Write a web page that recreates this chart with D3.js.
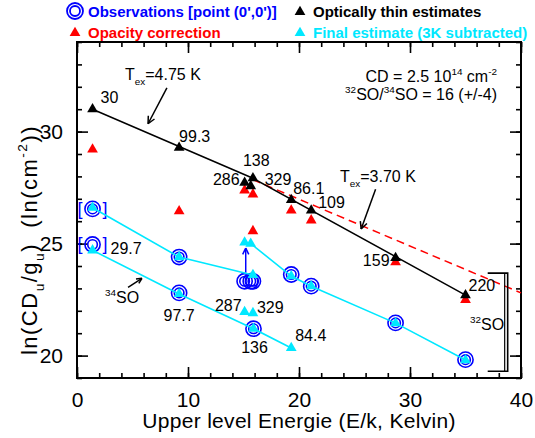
<!DOCTYPE html>
<html>
<head>
<meta charset="utf-8">
<script src="https://cdn.jsdelivr.net/npm/d3@7"></script>
<style>
body { margin: 0; background: #fff; }
svg { display: block; font-family: "Liberation Sans", Arial, sans-serif; }
</style>
</head>
<body>
<svg id="chart" width="535" height="438"></svg>
<script>
/* 32SO lines: frequency label (GHz) and upper level energy (K) */
var lines32 = ["30", "99.3", "286", "329", "138", "86.1", "109", "159", "220"];
var eu32    = [1.4, 9.2, 15.1, 15.65, 15.85, 19.3, 21.1, 28.7, 35.0];
var thin32  = [31.0, 29.28, 27.72, 27.57, 27.92, 26.95, 26.48, 24.36, 22.7];   // black
var opacEu32 = [1.4, 9.2, 15.1, 15.85, 15.85, 19.3, 21.1, 28.7, 35.0];
var opac32  = [29.2, 26.45, 27.38, 25.56, 27.2, 26.48, 26.04, 24.17, 22.49];  // red
var obs32   = [26.55, 24.4, 23.32, 23.32, 23.32, 23.62, 23.1, 21.46, 19.82];  // blue circles
var final32 = [26.6, 24.4, 25.05, 25.0, 23.6, 23.55, 23.1, 21.45, 19.8];     // cyan
var finalPathA = [0, 1, 4];          // indices joined by the first cyan line
var finalPathB = [3, 5, 6, 7, 8];    // second cyan line

/* 34SO lines */
var lines34 = ["29.7", "97.7", "287", "329", "136", "84.4"];
var eu34    = [1.4, 9.2, 15.1, 15.85, 15.9, 19.3];
var final34 = [24.7, 22.75, 21.95, 21.9, 21.2, 20.34];
var obsIdx34 = [0, 1, 4];
var obs34   = [24.96, 22.8, 21.2];
var final34Path = [0, 1, 4, 5];

/* fits */
var fitThin = [[1.4, 31.0], [15.85, 27.92], [35.0, 22.7]];
var fitDash = [[15.85, 27.85], [40, 22.8]];

/* label offsets (px) */
var lab32 = [[8, -6, "start"], [0, -6, "start"], [-5, 2, "end"], [14, -1, "start"], [-10, -12, "start"],
             [2, -6, "start"], [7, -2, "start"], [-6, 8, "end"], [3, -4, "start"]];
var lab34 = [[18, 4, "start"], [0, 27, "middle"], [-3, -1, "end"], [4, 0, "start"], [1, 24, "middle"], [4, -7, "start"]];

var legendText = ["Observations [point (0',0')]", "Optically thin estimates", "Opacity correction", "Final estimate (3K subtracted)"];
var legendColor = ["#0000ff", "#000000", "#ff0000", "#00e8ff"];

var BLUE = "#0000ff", RED = "#ff0000", CYAN = "#00e8ff";

var svg = d3.select("#chart");
var x = d3.scaleLinear().domain([0, 40]).range([77, 521]);
var y = d3.scaleLinear().domain([19, 34]).range([378, 42]);
var L = 77, R = 521, T = 42, B = 378;

/* ---- axes, ticks inward on all four sides ---- */
function ticks(axis, tr, vals, size, labels) {
  var g = svg.append("g").attr("transform", tr)
    .call(axis.tickValues(vals).tickSize(size).tickPadding(14)
      .tickFormat(labels ? d3.format("d") : ""));
  g.select(".domain").remove();
  g.selectAll("line").attr("stroke", "#000").attr("stroke-width", 1.6);
  g.selectAll("text").attr("fill", "#000").style("font-size", "21px");
  return g;
}
var xMaj = d3.range(0, 41, 10), xMin = d3.range(0, 41, 2);
var yMaj = [20, 25, 30], yMin = d3.range(19, 35, 1);
var gx = ticks(d3.axisBottom(x), "translate(0," + B + ")", xMaj, -11, true);
gx.selectAll("text").attr("dy", null).attr("y", 29);
ticks(d3.axisBottom(x), "translate(0," + B + ")", xMin, -5, false);
ticks(d3.axisTop(x), "translate(0," + T + ")", xMaj, -11, false);
ticks(d3.axisTop(x), "translate(0," + T + ")", xMin, -5, false);
ticks(d3.axisLeft(y), "translate(" + L + ",0)", yMaj, -11, true);
ticks(d3.axisLeft(y), "translate(" + L + ",0)", yMin, -5, false);
ticks(d3.axisRight(y), "translate(" + R + ",0)", yMaj, -11, false);
ticks(d3.axisRight(y), "translate(" + R + ",0)", yMin, -5, false);

svg.append("rect").attr("x", L).attr("y", T).attr("width", R - L).attr("height", B - T)
  .attr("fill", "none").attr("stroke", "#000").attr("stroke-width", 2);

/* rich text helper: parts = [[text, "n"|"sub"|"sup"], ...] */
function rich(g, parts, size) {
  var t = g.style("font-size", size + "px").style("white-space", "pre");
  var shift = 0;
  parts.forEach(function(p) {
    var target = p[1] === "sub" ? 0.3 * size : p[1] === "sup" ? -0.45 * size : 0;
    t.append("tspan").attr("dy", target - shift)
      .style("font-size", (p[1] === "n" ? size : size * 0.62) + "px").text(p[0]);
    shift = target;
  });
  return t;
}

svg.append("text").attr("x", 299).attr("y", 428).attr("text-anchor", "middle")
  .style("font-size", "21px").style("letter-spacing", "0.3px")
  .text("Upper level Energie (E/k, Kelvin)");
rich(svg.append("text").attr("text-anchor", "middle")
  .attr("transform", "translate(37,240) rotate(-90)").style("letter-spacing", "1.5px"),
  [["ln(CD", "n"], ["u", "sub"], ["/g", "n"], ["u", "sub"], [")  (ln(cm", "n"], ["-2", "sup"], ["))", "n"]], 22);

/* ---- fit lines ---- */
var line = d3.line().x(function(d) { return x(d[0]); }).y(function(d) { return y(d[1]); });
svg.append("path").attr("d", line(fitDash)).attr("fill", "none")
  .attr("stroke", RED).attr("stroke-width", 1.5).attr("stroke-dasharray", "8,5");
svg.append("path").attr("d", line(fitThin)).attr("fill", "none")
  .attr("stroke", "#000").attr("stroke-width", 1.5);

var tri = d3.symbol().type(d3.symbolTriangle).size(50);

svg.append("g").selectAll("path").data(opac32).join("path")
  .attr("d", tri).attr("fill", RED)
  .attr("transform", function(d, i) { return "translate(" + x(opacEu32[i]) + "," + y(d) + ")"; });
svg.append("g").selectAll("path").data(thin32).join("path")
  .attr("d", tri).attr("fill", "#000")
  .attr("transform", function(d, i) { return "translate(" + x(eu32[i]) + "," + y(d) + ")"; });

/* observations: double circles */
function ring(g, cx, cy) {
  [7.6, 4.8].forEach(function(r) {
    g.append("circle").attr("cx", cx).attr("cy", cy).attr("r", r)
      .attr("fill", "none").attr("stroke", BLUE).attr("stroke-width", 1.6);
  });
}
var gObs = svg.append("g");
obs32.forEach(function(v, i) { ring(gObs, x(eu32[i]), y(v)); });
obs34.forEach(function(v, i) { ring(gObs, x(eu34[obsIdx34[i]]), y(v)); });

/* brackets around the 30 / 29.7 GHz observations */
[obs32[0], obs34[0]].forEach(function(v) {
  gObs.append("text").attr("x", x(eu32[0]) - 10).attr("y", y(v) + 6).attr("text-anchor", "end")
    .attr("fill", BLUE).style("font-size", "18px").text("[");
  gObs.append("text").attr("x", x(eu32[0]) + 10).attr("y", y(v) + 6)
    .attr("fill", BLUE).style("font-size", "18px").text("]");
});

/* lower limit arrow */
function arrow(g, x1, y1, x2, y2, color, head) {
  g.append("line").attr("x1", x1).attr("y1", y1).attr("x2", x2).attr("y2", y2)
    .attr("stroke", color).attr("stroke-width", 1.5);
  var a = Math.atan2(y2 - y1, x2 - x1);
  [0.45, -0.45].forEach(function(da) {
    g.append("line").attr("x1", x2).attr("y1", y2)
      .attr("x2", x2 - head * Math.cos(a + da)).attr("y2", y2 - head * Math.sin(a + da))
      .attr("stroke", color).attr("stroke-width", 1.5);
  });
}
arrow(svg, x(15.2), y(23.7), x(15.2), y(24.8), BLUE, 7);

/* final estimates */
var pts32 = final32.map(function(v, i) { return [eu32[i], v]; });
var pts34 = final34.map(function(v, i) { return [eu34[i], v]; });
[finalPathA.map(function(i) { return pts32[i]; }),
 finalPathB.map(function(i) { return pts32[i]; }),
 final34Path.map(function(i) { return pts34[i]; })].forEach(function(p) {
  svg.append("path").attr("d", line(p)).attr("fill", "none").attr("stroke", CYAN).attr("stroke-width", 1.6);
});
svg.append("g").selectAll("path").data(pts32.concat(pts34)).join("path")
  .attr("d", tri).attr("fill", CYAN)
  .attr("transform", function(d) { return "translate(" + x(d[0]) + "," + y(d[1]) + ")"; });

/* frequency labels */
var gLab = svg.append("g").style("font-size", "16px").attr("fill", "#000");
lines32.forEach(function(s, i) {
  gLab.append("text").attr("x", x(eu32[i]) + lab32[i][0]).attr("y", y(thin32[i]) + lab32[i][1])
    .attr("text-anchor", lab32[i][2]).text(s);
});
lines34.forEach(function(s, i) {
  gLab.append("text").attr("x", x(eu34[i]) + lab34[i][0]).attr("y", y(final34[i]) + lab34[i][1])
    .attr("text-anchor", lab34[i][2]).text(s);
});

/* annotations */
rich(svg.append("text").attr("x", 125).attr("y", 80), [["T", "n"], ["ex", "sub"], ["=4.75 K", "n"]], 16);
arrow(svg, x(8.1), y(31.95), x(6.4), y(30.35), "#000", 8);
rich(svg.append("text").attr("x", 340).attr("y", 182), [["T", "n"], ["ex", "sub"], ["=3.70 K", "n"]], 16);
arrow(svg, x(26.9), y(27.43), x(25.6), y(25.65), "#000", 8);
rich(svg.append("text").attr("x", 105).attr("y", 303), [["34", "sup"], ["SO", "n"]], 16);
arrow(svg, x(4.6), y(23.05), x(5.85), y(23.45), "#000", 6);
rich(svg.append("text").attr("x", 470).attr("y", 330), [["32", "sup"], ["SO", "n"]], 16);
rich(svg.append("text").attr("x", 497).attr("y", 82).attr("text-anchor", "end"),
  [["CD = 2.5 10", "n"], ["14", "sup"], [" cm", "n"], ["-2", "sup"]], 16);
rich(svg.append("text").attr("x", 497).attr("y", 100).attr("text-anchor", "end"),
  [["32", "sup"], ["SO/", "n"], ["34", "sup"], ["SO = 16 (+/-4)", "n"]], 16);

/* 32SO bracket */
svg.append("path").attr("fill", "none").attr("stroke", "#000").attr("stroke-width", 1.6)
  .attr("d", "M" + x(37.0) + "," + y(23.68) + "H" + x(38.8) + "V" + y(19.3) + "H" + x(37.0));
svg.append("line").attr("x1", x(38.8) - 3).attr("x2", x(38.8) - 3).attr("y1", y(23.68)).attr("y2", y(19.3))
  .attr("stroke", "#000").attr("stroke-width", 1.2);

/* legend */
var legX = [75, 300], legY = [11, 32];
var gLeg = svg.append("g").style("font-size", "15px").style("font-weight", "bold");
legendText.forEach(function(s, i) {
  var lx = legX[i % 2], ly = legY[Math.floor(i / 2)];
  if (i === 0) {
    [8, 5].forEach(function(r) {
      gLeg.append("circle").attr("cx", lx).attr("cy", ly).attr("r", r)
        .attr("fill", "none").attr("stroke", BLUE).attr("stroke-width", 1.8);
    });
  } else {
    gLeg.append("path").attr("d", tri).attr("fill", legendColor[i])
      .attr("transform", "translate(" + lx + "," + (ly + 1) + ")");
  }
  gLeg.append("text").attr("x", lx + 13).attr("y", ly + 5.5).attr("fill", legendColor[i]).text(s);
});
</script>
</body>
</html>
